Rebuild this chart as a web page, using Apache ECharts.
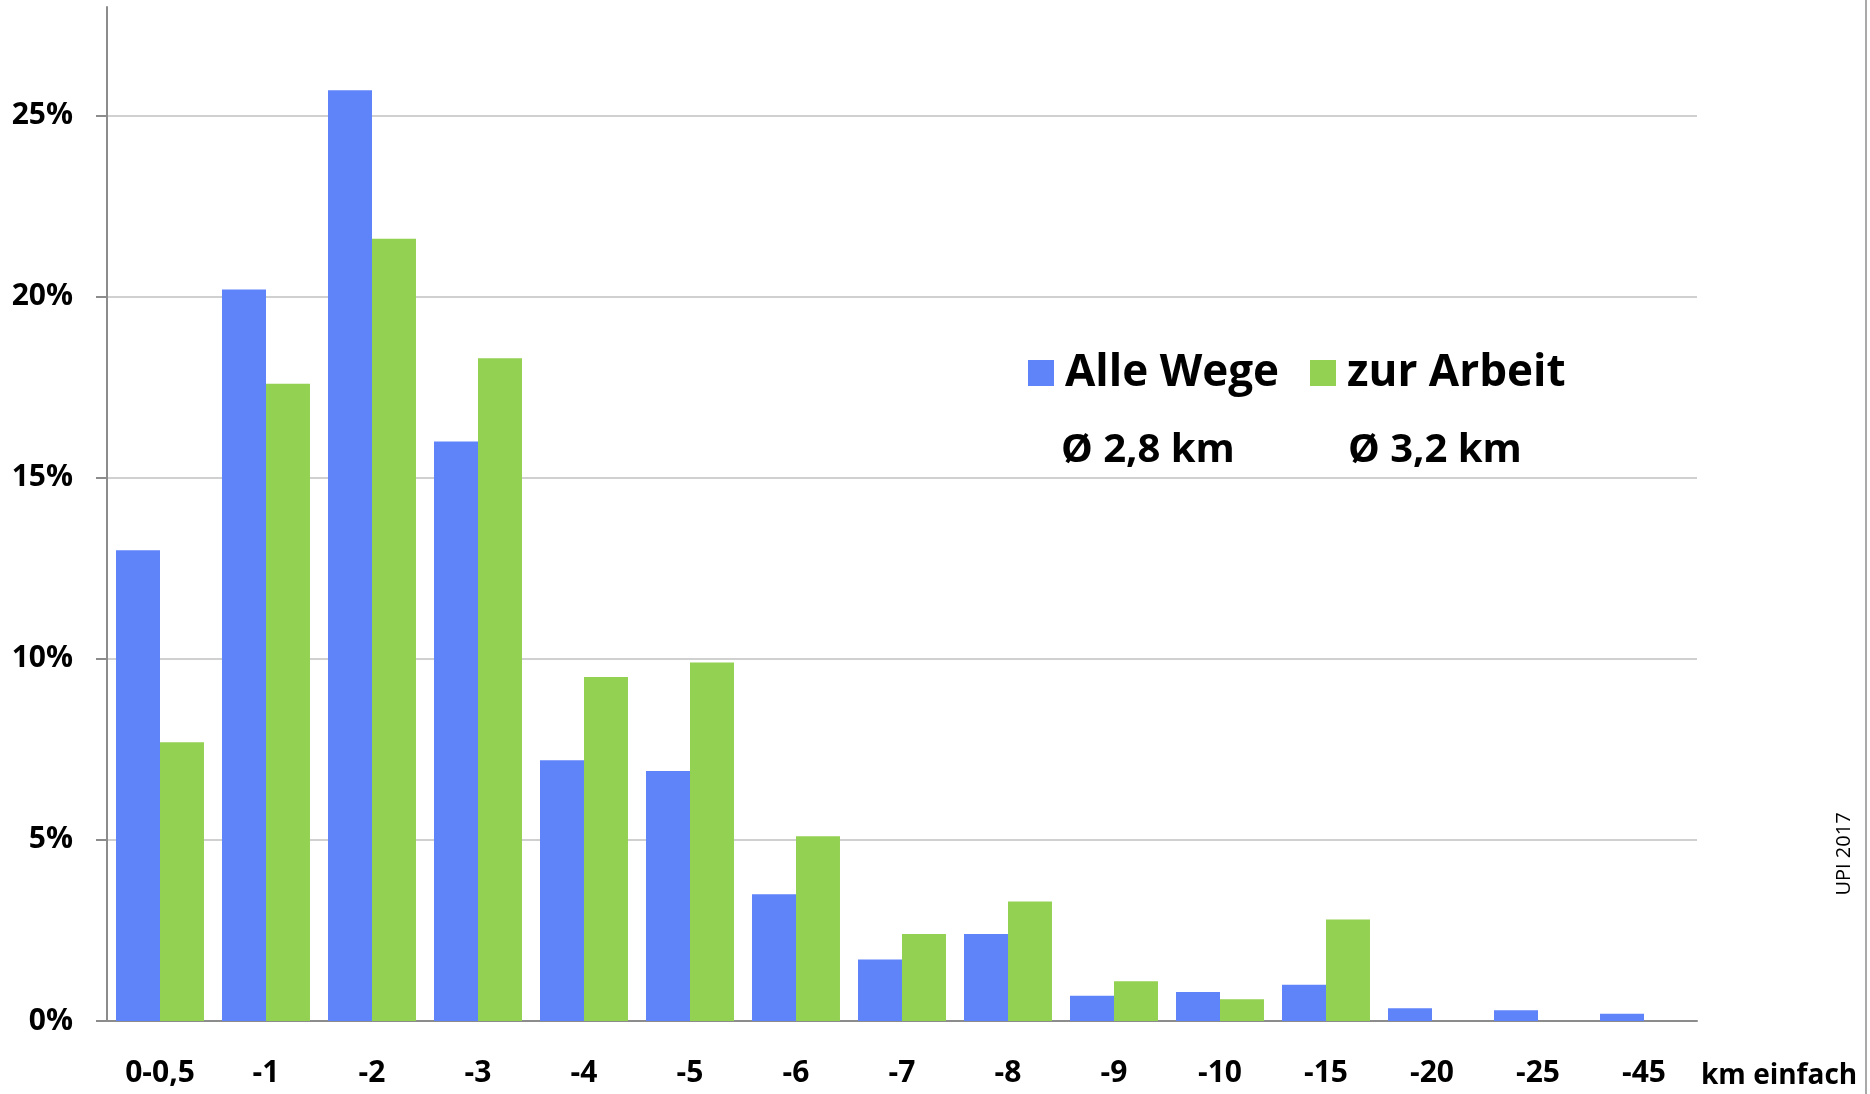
<!doctype html>
<html lang="de">
<head>
    <meta charset="UTF-8">
    <title>Wegelängen Fahrrad</title>
    <style>
        html, body { margin: 0; padding: 0; background: #fff; }
        #main { width: 1870px; height: 1094px; }
    </style>
</head>
<body>
<div id="main"></div>
<script type="text/javascript" src="https://cdn.jsdelivr.net/npm/echarts@6/dist/echarts.min.js"></script>
<script type="text/javascript">
    // Daten (Anteil in %)
    const categories = ['0-0,5', '-1', '-2', '-3', '-4', '-5', '-6', '-7', '-8', '-9', '-10', '-15', '-20', '-25', '-45'];
    const alleWege = [13.0, 20.2, 25.7, 16.0, 7.2, 6.9, 3.5, 1.7, 2.4, 0.7, 0.8, 1.0, 0.35, 0.3, 0.2];
    const zurArbeit = [7.7, 17.6, 21.6, 18.3, 9.5, 9.9, 5.1, 2.4, 3.3, 1.1, 0.6, 2.8, 0, 0, 0];
    const seriesNames = ['Alle Wege', 'zur Arbeit'];
    const averages = ['Ø 2,8 km', 'Ø 3,2 km'];
    const yTicks = [0, 5, 10, 15, 20, 25];

    let myChart = echarts.init(document.getElementById('main'));
    const font = 'Open Sans';

    let option = {
        backgroundColor: '#fff',
        animation: false,
        color: ['#5F83F9', '#93D152'],
        grid: {left: 107, right: 173, top: 7, bottom: 73, outerBoundsMode: 'none'},
        legend: {
            data: seriesNames,
            left: 1023,
            top: 346,
            itemWidth: 26,
            itemHeight: 26,
            itemGap: 31,
            icon: 'rect',
            textStyle: {fontFamily: font, fontWeight: 'bold', fontSize: 44, color: '#000', padding: [0, 0, 0, 6]}
        },
        xAxis: {
            type: 'category',
            data: categories,
            name: 'km einfach',
            nameLocation: 'end',
            nameGap: 4,
            nameTextStyle: {fontFamily: font, fontWeight: 'bold', fontSize: 28, color: '#000', verticalAlign: 'top', padding: [41, 0, 0, 0]},
            axisLine: {lineStyle: {color: '#8c8c8c', width: 2}},
            axisTick: {length: 11, lineStyle: {color: '#8c8c8c', width: 2}},
            axisLabel: {fontFamily: font, fontWeight: 'bold', fontSize: 30, color: '#000', margin: 37}
        },
        yAxis: {
            type: 'value',
            min: 0,
            max: 28,
            interval: 5,
            axisLine: {show: true, lineStyle: {color: '#8c8c8c', width: 2}},
            axisTick: {show: true, length: 11, customValues: yTicks, lineStyle: {color: '#8c8c8c', width: 2}},
            splitLine: {show: true, lineStyle: {color: '#c0c0c0', width: 1.5}},
            axisLabel: {
                fontFamily: font, fontWeight: 'bold', fontSize: 30, color: '#000', margin: 34,
                customValues: yTicks,
                formatter: function (v) { return v % 5 === 0 ? v + '%' : ''; }
            }
        },
        graphic: [
            {type: 'text', left: 1061, top: 431, style: {text: averages[0], fontFamily: font, fontWeight: 'bold', fontSize: 40, fill: '#000'}},
            {type: 'text', left: 1348, top: 431, style: {text: averages[1], fontFamily: font, fontWeight: 'bold', fontSize: 40, fill: '#000'}},
            {type: 'text', x: 1844, y: 854, rotation: Math.PI / 2, style: {text: 'UPI 2017', fontFamily: font, fontSize: 20, fill: '#000', align: 'center', verticalAlign: 'middle'}},
            {type: 'line', shape: {x1: 1866, y1: 0, x2: 1866, y2: 1094}, style: {stroke: '#8c8c8c', lineWidth: 1.5}}
        ],
        series: [
            {name: seriesNames[0], type: 'bar', data: alleWege, barWidth: '41.5%', barGap: '0%', barCategoryGap: '17%'},
            {name: seriesNames[1], type: 'bar', data: zurArbeit, barWidth: '41.5%', barGap: '0%', barCategoryGap: '17%'}
        ]
    };
    myChart.setOption(option, true);
</script>
</body>
</html>
